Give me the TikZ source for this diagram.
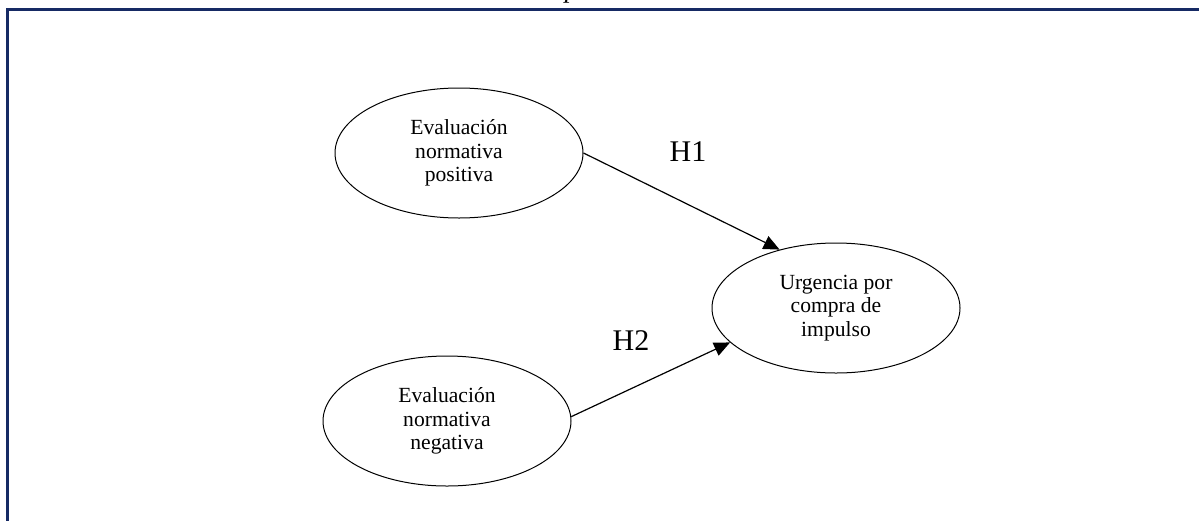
\documentclass[tikz,border=0pt]{standalone}
\usepackage{fontspec}
\setmainfont{Liberation Serif}
\usetikzlibrary{shapes.geometric,arrows.meta}
\definecolor{framenavy}{RGB}{22,42,100}
\tikzset{
  construct/.style={ellipse,draw=black,line width=0.5pt,minimum width=124pt,minimum height=65pt,inner sep=0pt,align=center,font=\fontsize{10.8}{11.8}\selectfont},
  hyp/.style={font=\fontsize{15}{18}\selectfont},
  link/.style={draw=black,line width=0.6pt,-{Triangle[length=8pt,width=7pt]}}
}
\begin{document}
\begin{tikzpicture}[x=0.5pt,y=-0.5pt]
\clip (0,0) rectangle (1199,520);
\fill[white] (0,0) rectangle (1199,520);
% cut-off title
\node[font=\fontsize{13.5}{16}\itshape,anchor=base] (title) at (558,-3) {Conceptual};
% frame
\draw[framenavy,line width=1.5pt] (7.5,530) -- (7.5,9) -- (1210,9);
% constructs
\node[construct] (pos) at (459,153) {Evaluación\\normativa\\positiva};
\node[construct] (neg) at (447,421) {Evaluación\\normativa\\negativa};
\node[construct] (urg) at (836,308) {Urgencia por\\compra de\\impulso};
% hypotheses
\draw[link] (pos.east) -- (urg.134);
\draw[link] (neg.2) -- (urg.198);
\node[hyp] (h1) at (688,152) {H1};
\node[hyp] (h2) at (631,341) {H2};
\end{tikzpicture}
\end{document}
